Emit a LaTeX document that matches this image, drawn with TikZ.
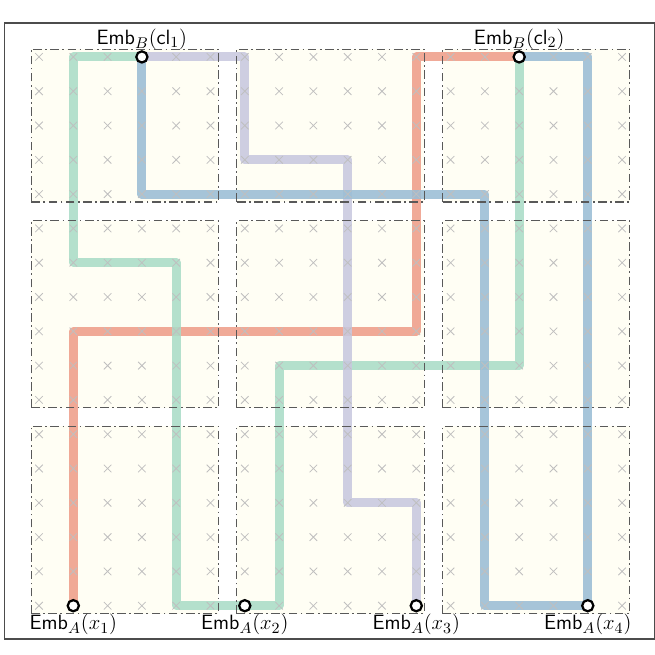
\documentclass[tikz,border=0pt]{standalone}
\usepackage{amsmath}
\usepackage{amssymb}
\usetikzlibrary{positioning}

\pgfdeclarelayer{blocks}
\pgfdeclarelayer{wires}
\pgfdeclarelayer{marks}
\pgfsetlayers{blocks,wires,marks,main}

\definecolor{wirered}{RGB}{238,158,138}
\definecolor{wiregreen}{RGB}{170,220,199}
\definecolor{wirepurple}{RGB}{200,200,223}
\definecolor{wireblue}{RGB}{154,189,213}
\definecolor{ivory}{RGB}{255,254,244}

\begin{document}
\begin{tikzpicture}[x=0.7cm,y=0.7cm,
    port/.style={circle,draw=black,fill=white,line width=1.3pt,
        inner sep=0pt,minimum size=6.5pt},
    tag/.style={inner sep=1pt,font=\fontsize{13.2}{15.5}\selectfont},
    wire/.style={line width=5.2pt,line join=round,line cap=round,opacity=0.88},
    blockfill/.style={fill=ivory},
    blockframe/.style={draw=black!65,line width=0.6pt,
        dash pattern=on 5pt off 2pt on 1pt off 2pt},
    cross/.style={draw=black!25,line width=0.45pt}]

  \useasboundingbox (-1.137,-1.434) rectangle (17.96,17.66);
  \draw[black!70,line width=0.8pt] (-1,-0.97) rectangle (17.95,16.99);

  \node[port] (cl_1) at (3,16) {};
  \node[port] (cl_2) at (14,16) {};
  \node[port] (x_1) at (1,0) {};
  \node[port] (x_2) at (6,0) {};
  \node[port] (x_3) at (11,0) {};
  \node[port] (x_4) at (16,0) {};

  \node[tag,above=-1pt of cl_1] (t_cl_1) {$\mathsf{Emb}_B(\mathsf{cl}_1)$};
  \node[tag,above=-1pt of cl_2] (t_cl_2) {$\mathsf{Emb}_B(\mathsf{cl}_2)$};
  \node[tag,below=0pt of x_1] (t_x_1) {$\mathsf{Emb}_A(x_1)$};
  \node[tag,below=0pt of x_2] (t_x_2) {$\mathsf{Emb}_A(x_2)$};
  \node[tag,below=0pt of x_3] (t_x_3) {$\mathsf{Emb}_A(x_3)$};
  \node[tag,below=0pt of x_4] (t_x_4) {$\mathsf{Emb}_A(x_4)$};

  % blocks of the grid
  \begin{pgfonlayer}{blocks}
    \foreach \b in {0,6,12}
      \foreach \lo/\hi in {12/16,6/11,0/5}
        \path[blockfill] (\b-0.23,\lo-0.23) rectangle (\b+5.23,\hi+0.23);
  \end{pgfonlayer}

  \begin{pgfonlayer}{marks}
    \foreach \i in {0,...,17}
      \foreach \j in {0,...,16}
        \draw[cross] (\i-0.11,\j-0.11) -- ++(0.22,0.22)
                     (\i-0.11,\j+0.11) -- ++(0.22,-0.22);
    \foreach \b in {0,6,12}
      \foreach \lo/\hi in {12/16,6/11,0/5}
        \path[blockframe] (\b-0.23,\lo-0.23) rectangle (\b+5.23,\hi+0.23);
  \end{pgfonlayer}

  % routed wires
  \begin{pgfonlayer}{wires}
    \draw[wire,wirered] (x_1.center) |- (11,8) |- (cl_2.center);
    \draw[wire,wiregreen] (cl_1.center) -| (1,10) -| (4,0) -- (x_2.center);
    \draw[wire,wiregreen] (cl_2.center) |- (7,7) |- (x_2.center);
    \draw[wire,wirepurple] (cl_1.center) -| (6,13) -| (9,3) -| (x_3.center);
    \draw[wire,wireblue] (cl_1.center) |- (13,12) |- (x_4.center);
    \draw[wire,wireblue] (x_4.center) |- (cl_2.center);
  \end{pgfonlayer}

\end{tikzpicture}
\end{document}
